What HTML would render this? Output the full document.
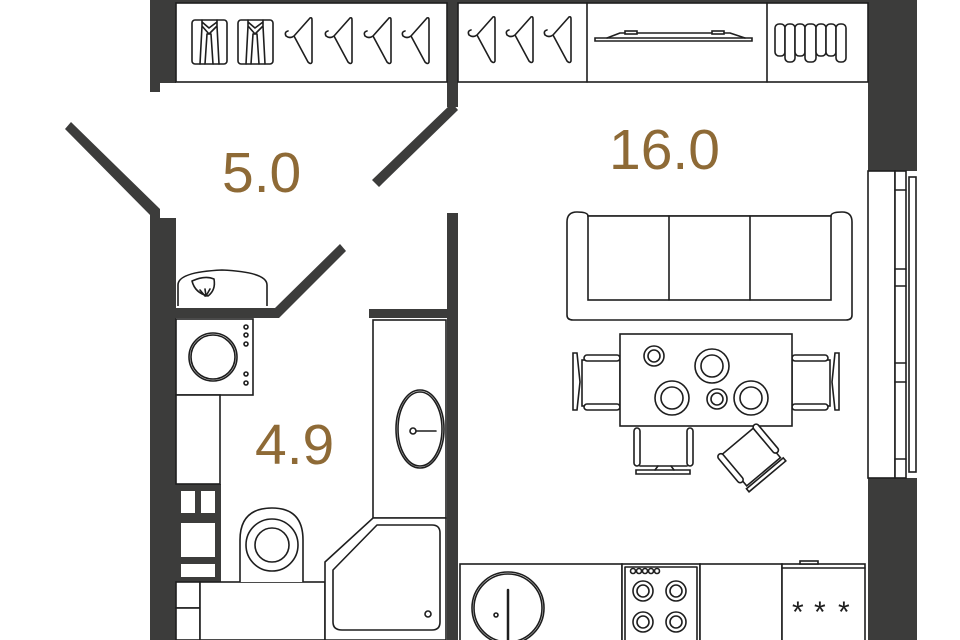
<!DOCTYPE html>
<html><head><meta charset="utf-8"><style>
html,body{margin:0;padding:0;background:#fff;width:960px;height:640px;overflow:hidden}
svg{display:block}
.o{fill:#fff;stroke:#1e1e1e;stroke-width:1.6}
.l{fill:none;stroke:#1e1e1e;stroke-width:1.6;stroke-linecap:round;stroke-linejoin:round}
.t{font-family:"Liberation Sans",sans-serif;fill:#8e6a36;font-size:57px}
</style></head><body>
<svg width="960" height="640" viewBox="0 0 960 640" xmlns="http://www.w3.org/2000/svg">
<defs>
<g id="hg"><path class="l" d="M27 2 Q29 1 29 4 L29 46 Q28 49 25 46 L11 20 L27 2 M11 20 Q7 23 3 20 Q1 16 5 15"/></g>
<g id="sh"><rect class="o" x="0" y="0" width="35" height="44" rx="3"/><path class="l" d="M10 0 L10 6 L17 14 L25 6 L25 0 M10 2 L17 8 L25 2 M15 14 L13 44 M19 14 L21 44 M15 14 L19 14 M10 6 L8 44 M25 6 L27 44"/></g>
<g id="chl">
<rect class="o" x="582" y="360" width="38" height="46"/>
<rect class="o" x="584" y="355" width="36" height="6" rx="3"/><rect class="o" x="584" y="404" width="36" height="6" rx="3"/>
<path class="o" d="M573 353 L577 353 L580 382 L577 410 L573 410 Z"/>
</g>
</defs>
<g fill="#3c3c3b">
<rect x="150" y="0" width="720" height="3"/>
<rect x="150" y="0" width="26" height="83"/><rect x="150" y="80" width="10" height="12"/>
<rect x="447" y="0" width="11" height="107"/>
<polygon points="452,103 458,110 379,187 372,180"/>
<polygon points="65,129 71,122 160,209 160,220 153,218"/>
<rect x="150" y="210" width="10" height="430"/>
<rect x="150" y="218" width="26" height="422"/>
<polygon points="176,308 275,308 340,244 346,251 279,318 176,318"/>
<rect x="369" y="309" width="89" height="9"/>
<rect x="447" y="213" width="11" height="427"/>
<rect x="868" y="0" width="49" height="171"/>
<rect x="868" y="478" width="49" height="162"/>
<rect x="176" y="484" width="45" height="98"/>
</g>
<rect class="o" x="868" y="171" width="27" height="307"/>
<rect class="o" x="895" y="171" width="11" height="307"/>
<path class="l" d="M895 190H906M895 269H906M895 286H906M895 363H906M895 382H906M895 459H906"/>
<rect class="o" x="909" y="177" width="7" height="295"/>
<rect class="o" x="176" y="3" width="271" height="79"/>
<rect class="o" x="458" y="3" width="410" height="79"/>
<path class="l" d="M587 3V82M767 3V82"/>
<use href="#sh" x="192" y="20"/><use href="#sh" x="238" y="20"/>
<use href="#hg" x="283" y="16"/><use href="#hg" x="323" y="16"/><use href="#hg" x="362" y="16"/><use href="#hg" x="400" y="16"/>
<use href="#hg" x="466" y="15"/><use href="#hg" x="504" y="15"/><use href="#hg" x="542" y="15"/>
<path class="o" d="M595 38 L752 38 L752 41 L595 41 Z"/>
<path class="l" d="M607 38 L620 33 L730 33 L745 38"/><rect class="o" x="625" y="31" width="12" height="3"/><rect class="o" x="712" y="31" width="12" height="3"/>
<g class="o">
<rect x="775" y="24" width="10" height="32" rx="4"/><rect x="785" y="24" width="10" height="38" rx="4"/><rect x="795" y="24" width="10" height="32" rx="4"/><rect x="805" y="24" width="11" height="38" rx="4"/><rect x="816" y="24" width="10" height="32" rx="4"/><rect x="826" y="24" width="10" height="32" rx="4"/><rect x="836" y="24" width="10" height="38" rx="4"/>
</g>
<path class="o" d="M178 306 L178 285 Q178 272 222 270 Q267 272 267 285 L267 306"/>
<path class="l" d="M192 281 Q205 275 214 279 Q216 290 208 296 Q195 293 192 281 M200 290 L205 296 M205 289 L206 296 M210 289 L206 296"/>
<rect class="o" x="176" y="319" width="77" height="76"/>
<circle class="l" cx="213" cy="357" r="24"/><circle class="l" cx="213" cy="357" r="22"/>
<g class="l"><circle cx="246" cy="327" r="2"/><circle cx="246" cy="335" r="2"/><circle cx="246" cy="344" r="2"/><circle cx="246" cy="374" r="2"/><circle cx="246" cy="383" r="2"/></g>
<rect class="o" x="176" y="395" width="44" height="89"/>
<g fill="#fff"><rect x="181" y="491" width="14" height="22"/><rect x="201" y="491" width="14" height="22"/><rect x="181" y="523" width="34" height="34"/><rect x="181" y="564" width="34" height="13"/></g>
<rect class="o" x="176" y="582" width="24" height="26"/><rect class="o" x="176" y="608" width="24" height="32"/>
<rect class="o" x="200" y="582" width="125" height="58"/>
<path class="o" d="M240 582 L240 540 Q240 508 272 508 Q303 508 303 540 L303 582"/>
<circle class="l" cx="272" cy="545" r="26"/><circle class="l" cx="272" cy="545" r="17"/>
<rect class="o" x="373" y="320" width="73" height="198"/>
<ellipse class="l" cx="420" cy="429" rx="24" ry="39"/><ellipse class="l" cx="420" cy="429" rx="22" ry="37"/>
<path class="l" d="M413 431 H436"/><circle class="o" cx="413" cy="431" r="3"/>
<path class="o" d="M325 562 L373 518 L446 518 L446 640 L325 640 Z"/>
<path class="l" d="M333 570 L377 525 L432 525 Q440 525 440 533 L440 622 Q440 630 432 630 L342 630 Q333 630 333 622 Z"/>
<circle class="l" cx="428" cy="614" r="3"/>
<path class="o" d="M567 222 Q567 212 577 212 Q588 212 588 216 L831 216 Q831 212 842 212 Q852 212 852 222 L852 315 Q852 320 846 320 L573 320 Q567 320 567 315 Z"/>
<rect class="o" x="588" y="216" width="243" height="84"/>
<path class="l" d="M669 216V300M750 216V300"/>
<use href="#chl"/>
<use href="#chl" transform="translate(1412 0) scale(-1 1)"/>
<rect class="o" x="620" y="334" width="172" height="92"/>
<g class="l">
<circle cx="654" cy="356" r="10"/><circle cx="654" cy="356" r="6"/>
<circle cx="712" cy="366" r="17"/><circle cx="712" cy="366" r="11"/>
<circle cx="672" cy="398" r="17"/><circle cx="672" cy="398" r="11"/>
<circle cx="717" cy="399" r="10"/><circle cx="717" cy="399" r="6"/>
<circle cx="751" cy="398" r="17"/><circle cx="751" cy="398" r="11"/>
</g>
<rect class="o" x="634" y="428" width="6" height="38" rx="3"/><rect class="o" x="687" y="428" width="6" height="38" rx="3"/>
<path class="l" d="M640 466 H687"/>
<path class="o" d="M636 470 L690 470 L690 474 L636 474 Z"/><path class="l" d="M655 470 L658 466 M671 466 L674 470"/>
<g transform="rotate(-40 752 458)">
<rect class="o" x="730" y="436" width="44" height="40"/>
<rect class="o" x="726" y="434" width="6" height="36" rx="3"/><rect class="o" x="772" y="434" width="6" height="36" rx="3"/>
<rect class="o" x="728" y="478" width="48" height="4"/>
</g>
<rect class="o" x="460" y="564" width="162" height="80"/>
<rect class="o" x="622" y="564" width="78" height="80"/><rect class="l" x="625" y="567" width="72" height="75"/>
<rect class="o" x="700" y="564" width="82" height="80"/>
<rect class="o" x="782" y="564" width="83" height="80"/><path class="l" d="M782 568H865"/><rect class="o" x="800" y="561" width="18" height="3"/>
<circle class="l" cx="508" cy="608" r="36"/><circle class="l" cx="508" cy="608" r="34"/>
<circle class="l" cx="496" cy="615" r="2"/><path class="l" d="M508 590 V640" style="stroke-width:2.5"/>
<g class="l">
<circle cx="633" cy="571" r="2.5"/><circle cx="639" cy="571" r="2.5"/><circle cx="645" cy="571" r="2.5"/><circle cx="651" cy="571" r="2.5"/><circle cx="657" cy="571" r="2.5"/>
<circle cx="643" cy="591" r="10"/><circle cx="643" cy="591" r="6"/><circle cx="676" cy="591" r="10"/><circle cx="676" cy="591" r="6"/>
<circle cx="643" cy="622" r="10"/><circle cx="643" cy="622" r="6"/><circle cx="676" cy="622" r="10"/><circle cx="676" cy="622" r="6"/>
</g>
<g style="font-family:'Liberation Sans',sans-serif;font-size:30px;fill:#1e1e1e"><text x="792" y="622">*</text><text x="814" y="622">*</text><text x="838" y="622">*</text></g>
<text class="t" x="222" y="192">5.0</text>
<text class="t" x="609" y="169">16.0</text>
<text class="t" x="255" y="464">4.9</text>
</svg>
</body></html>
